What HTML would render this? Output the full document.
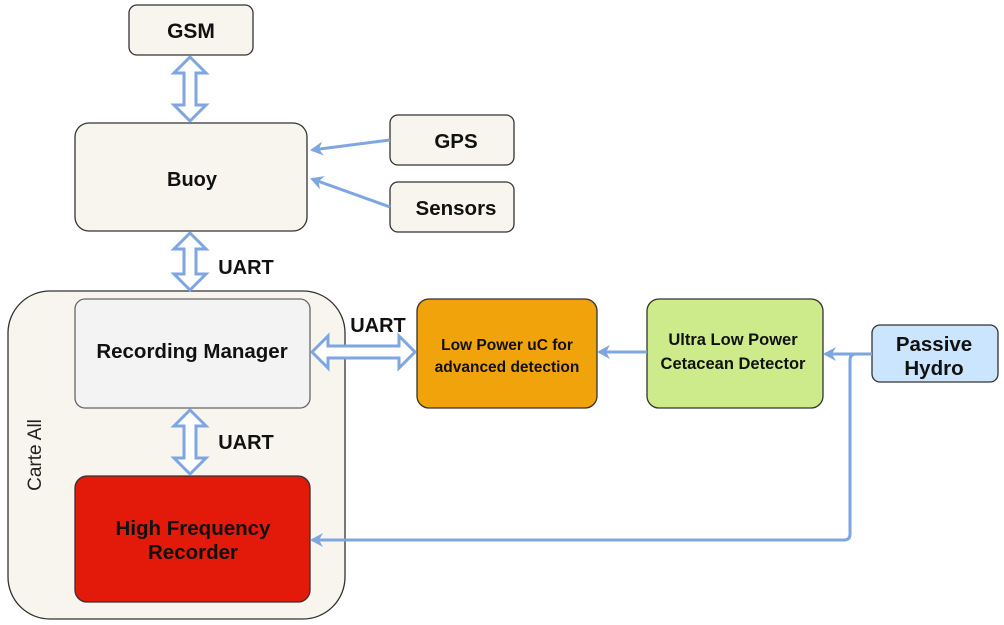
<!DOCTYPE html>
<html><head><style>
html,body{margin:0;padding:0;background:#fff;}
svg{display:block;font-family:"Liberation Sans",sans-serif;}
</style></head><body>
<svg width="1004" height="625" viewBox="0 0 1004 625" xmlns="http://www.w3.org/2000/svg">
<defs>
<marker id="ah" markerWidth="14" markerHeight="14" refX="11" refY="7" orient="auto" markerUnits="userSpaceOnUse">
<path d="M0,0 L13,7 L0,14 L4,7 Z" fill="#7ea6e0"/>
</marker>
</defs>
<g stroke="#333" stroke-width="1.3">
<rect x="129" y="5" width="124" height="50" rx="8" fill="#f7f5ee"/>
<rect x="75" y="123" width="232" height="108" rx="14" fill="#f7f5ee"/>
<rect x="390" y="115" width="124" height="50" rx="8" fill="#f7f5ee"/>
<rect x="390" y="182" width="124" height="50" rx="8" fill="#f7f5ee"/>
<rect x="8" y="291" width="337" height="328" rx="42" fill="#f7f5ee"/>
<rect x="75" y="299" width="235" height="109" rx="10" fill="#f3f3f3" stroke="#666"/>
<rect x="75" y="476" width="235" height="126" rx="12" fill="#e31a0a"/>
<rect x="417" y="299" width="180" height="109" rx="12" fill="#f0a30a"/>
<rect x="647" y="299" width="176" height="109" rx="12" fill="#cdeb8b"/>
<rect x="872" y="325" width="126" height="57" rx="8" fill="#cce5ff"/>
</g>
<g fill="#fff" stroke="#7ea6e0" stroke-width="3" stroke-linejoin="miter">
<path d="M190,57 L206,73 L196,73 L196,105 L206,105 L190,121 L174,105 L184,105 L184,73 L174,73 Z"/>
<path d="M190,233 L206,249 L196,249 L196,274 L206,274 L190,290 L174,274 L184,274 L184,249 L174,249 Z"/>
<path d="M190,410 L206,426 L196,426 L196,458 L206,458 L190,474 L174,458 L184,458 L184,426 L174,426 Z"/>
<path d="M312,352 L328,336 L328,346 L399,346 L399,336 L415,352 L399,368 L399,358 L328,358 L328,368 Z"/>
</g>
<g stroke="#7ea6e0" stroke-width="3" fill="none">
<line x1="390" y1="140" x2="312" y2="150" marker-end="url(#ah)"/>
<line x1="390" y1="207" x2="312" y2="179" marker-end="url(#ah)"/>
<line x1="647" y1="352" x2="599" y2="352" marker-end="url(#ah)"/>
<line x1="872" y1="354" x2="825" y2="354" marker-end="url(#ah)"/>
<path d="M856,354 Q850,354 850,360 L850,534 Q850,540 844,540 L312,540" marker-end="url(#ah)"/>
</g>
<g font-weight="bold" fill="#111" text-anchor="middle">
<text x="191" y="38" font-size="21">GSM</text>
<text x="192" y="186" font-size="20">Buoy</text>
<text x="456" y="148" font-size="20.5">GPS</text>
<text x="456" y="215" font-size="20.5">Sensors</text>
<text x="192" y="358" font-size="20.5">Recording Manager</text>
<text x="193" y="535" font-size="20.5">High Frequency</text>
<text x="193" y="559" font-size="20.5">Recorder</text>
<text x="507" y="350" font-size="15.5">Low Power uC for</text>
<text x="507" y="372" font-size="15.5">advanced detection</text>
<text x="733" y="345" font-size="16.5">Ultra Low Power</text>
<text x="733" y="369" font-size="16.5">Cetacean Detector</text>
<text x="934" y="351" font-size="20.5">Passive</text>
<text x="934" y="375" font-size="20.5">Hydro</text>
<text x="246" y="274" font-size="20">UART</text>
<text x="378" y="332" font-size="20">UART</text>
<text x="246" y="449" font-size="20">UART</text>
</g>
<text x="0" y="0" transform="translate(41,455) rotate(-90)" text-anchor="middle" font-size="19" fill="#222">Carte All</text>
</svg>
</body></html>
